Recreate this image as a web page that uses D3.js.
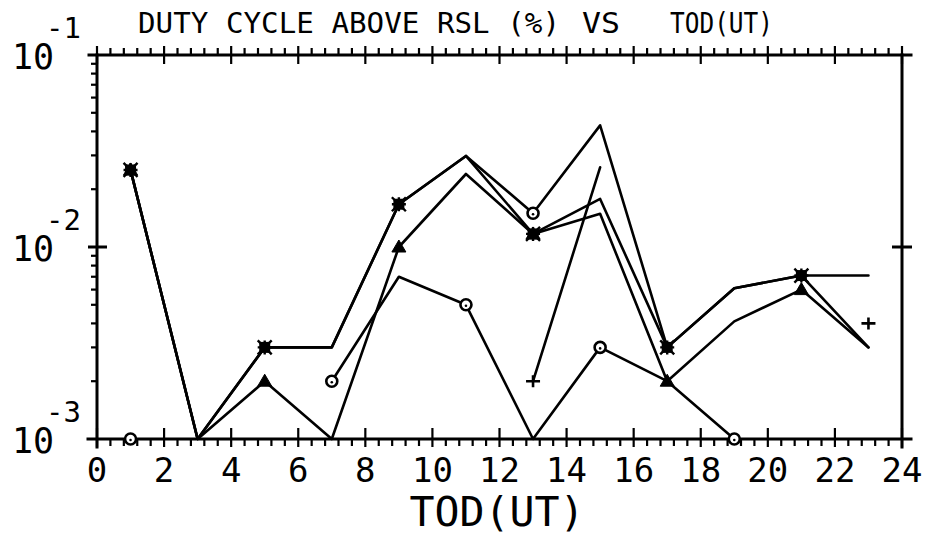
<!DOCTYPE html>
<html>
<head>
<meta charset="utf-8">
<script src="https://cdn.jsdelivr.net/npm/d3@7"></script>
<style>
  html, body { margin: 0; background: #fff; }
  svg { display: block; }
  text { font-family: "DejaVu Sans Mono", monospace; fill: #000; }
</style>
</head>
<body>
<svg id="chart" width="931" height="536"></svg>
<script>
// Time of day (UT) at which each duty-cycle sample was taken
const hours = [1, 3, 5, 7, 9, 11, 13, 15, 17, 19, 21, 23];

// Duty cycle above RSL, one array per receiver/threshold curve (null = no data)
const starValues     = [0.0252, 0.001, 0.0030, 0.0030, 0.0167, 0.0298, 0.0117, 0.0178, 0.0030, 0.0061, 0.0071, 0.0071];
const triangleValues = [0.0252, 0.001, 0.0020, 0.0010, 0.0100, 0.0240, 0.0117, 0.0149, 0.0020, 0.0041, 0.0060, 0.0030];
const circleValues   = [0.0010, null,  null,   0.0020, 0.0070, 0.0050, 0.0010, 0.0030, 0.0020, 0.0010, null,   null];
const peakValues     = [0.0252, 0.001, 0.0030, 0.0030, 0.0167, 0.0298, 0.0150, 0.0430, 0.0030, 0.0061, 0.0071, 0.0030];
const plusValues     = [null,   null,  null,   null,   null,   null,   0.0020, 0.0260, null,   null,   null,   0.0040];

// Hours at which each curve carries its plotting symbol
const starMarks     = [1, 5, 9, 13, 17, 21];
const triangleMarks = [1, 5, 9, 13, 17, 21];
const circleMarks   = [1, 7, 11, 15, 19];
const peakMarks     = [13];
const plusMarks     = [13, 23];

// Axis ticks and labels
const xTickValues = [0, 2, 4, 6, 8, 10, 12, 14, 16, 18, 20, 22, 24];
const yDecades = [1e-3, 1e-2, 1e-1];
const yExponents = ["-3", "-2", "-1"];
const titleParts = ["DUTY CYCLE ABOVE RSL (%)", "VS", "TOD(UT)"];
const xTitle = "TOD(UT)";

const svg = d3.select("#chart");
const x = d3.scaleLinear().domain([0, 24]).range([97, 902]);
const y = d3.scaleLog().domain([1e-3, 1e-1]).range([439, 55]);

const ink = "#000";
const lineW = 2.6;

// ---- frame ----
const frame = svg.append("g").attr("stroke", ink).attr("stroke-linecap", "square");
frame.append("line").attr("x1", x(0) - 8).attr("x2", x(24) + 9).attr("y1", y(1e-1)).attr("y2", y(1e-1)).attr("stroke-width", 3);
frame.append("line").attr("x1", x(0) - 9).attr("x2", x(24) + 9).attr("y1", y(1e-3)).attr("y2", y(1e-3)).attr("stroke-width", 3);
frame.append("line").attr("x1", x(0)).attr("x2", x(0)).attr("y1", y(1e-1)).attr("y2", y(1e-3) + 8).attr("stroke-width", 3);
frame.append("line").attr("x1", x(24)).attr("x2", x(24)).attr("y1", y(1e-1)).attr("y2", y(1e-3) + 8).attr("stroke-width", 3);

// x ticks: majors cross the axis, minors every 0.4 h point outward
const xMinor = d3.range(0, 24.001, 0.4).filter(v => Math.abs(v / 2 - Math.round(v / 2)) > 1e-6);
const ticks = svg.append("g").attr("stroke", ink).attr("stroke-width", 2.2);
xTickValues.forEach(v => {
  ticks.append("line").attr("x1", x(v)).attr("x2", x(v)).attr("y1", y(1e-1) - 9).attr("y2", y(1e-1) + 9);
  ticks.append("line").attr("x1", x(v)).attr("x2", x(v)).attr("y1", y(1e-3) - 11).attr("y2", y(1e-3) + 8);
});
xMinor.forEach(v => {
  ticks.append("line").attr("x1", x(v)).attr("x2", x(v)).attr("y1", y(1e-1) - 7).attr("y2", y(1e-1));
  ticks.append("line").attr("x1", x(v)).attr("x2", x(v)).attr("y1", y(1e-3)).attr("y2", y(1e-3) + 7);
});

// y ticks: decade ticks cross both verticals, minor ticks on the left only
y.ticks().filter(v => !yDecades.some(d => Math.abs(d - v) / d < 1e-6)).forEach(v => {
  ticks.append("line").attr("x1", x(0) - 6).attr("x2", x(0)).attr("y1", y(v)).attr("y2", y(v));
});
ticks.append("line").attr("x1", x(0) - 9).attr("x2", x(0) + 10).attr("y1", y(1e-2)).attr("y2", y(1e-2)).attr("stroke-width", 3);
ticks.append("line").attr("x1", x(24) - 10).attr("x2", x(24) + 10).attr("y1", y(1e-2)).attr("y2", y(1e-2)).attr("stroke-width", 3);

// ---- tick labels ----
svg.append("g").selectAll("text").data(xTickValues).join("text")
  .attr("x", d => x(d)).attr("y", 482)
  .attr("text-anchor", "middle").attr("font-size", 34)
  .text(d => d);

const yl = svg.append("g");
yDecades.forEach((d, i) => {
  yl.append("text").attr("x", 33).attr("y", y(d) + 14).attr("text-anchor", "middle").attr("font-size", 35).text("10");
  yl.append("text").attr("x", 46).attr("y", y(d) - 17).attr("font-size", 29).text(yExponents[i]);
});

// ---- titles ----
svg.append("text").attr("x", 138).attr("y", 33).attr("font-size", 29)
  .attr("textLength", 422).attr("lengthAdjust", "spacingAndGlyphs").text(titleParts[0]);
svg.append("text").attr("x", 582).attr("y", 33).attr("font-size", 29)
  .attr("textLength", 38).attr("lengthAdjust", "spacingAndGlyphs").text(titleParts[1]);
svg.append("text").attr("x", 670).attr("y", 33).attr("font-size", 29)
  .attr("textLength", 103).attr("lengthAdjust", "spacingAndGlyphs").text(titleParts[2]);
svg.append("text").attr("x", 497).attr("y", 526).attr("text-anchor", "middle").attr("font-size", 40)
  .attr("textLength", 175).attr("lengthAdjust", "spacingAndGlyphs").text(xTitle);

// ---- curves ----
const line = d3.line()
  .defined(d => d[1] != null)
  .x(d => x(d[0])).y(d => y(d[1]));

const curves = [circleValues, triangleValues, plusValues, peakValues, starValues];
const plot = svg.append("g").attr("fill", "none").attr("stroke", ink)
  .attr("stroke-width", lineW).attr("stroke-linejoin", "round").attr("stroke-linecap", "round");
curves.forEach(vals => {
  plot.append("path").attr("d", line(hours.map((h, i) => [h, vals[i]])));
});

// ---- symbols ----
const marks = svg.append("g");
const valueAt = (vals, h) => vals[hours.indexOf(h)];

function circleMark(h, vals) {
  const cx = x(h), cy = y(valueAt(vals, h));
  marks.append("circle").attr("cx", cx).attr("cy", cy).attr("r", 5.5)
    .attr("fill", "#fff").attr("stroke", ink).attr("stroke-width", 2.6);
  marks.append("circle").attr("cx", cx).attr("cy", cy + 1).attr("r", 1.3).attr("fill", ink);
}
function triangleMark(h, vals) {
  const cx = x(h), cy = y(valueAt(vals, h));
  marks.append("path").attr("d", `M${cx},${cy - 7}L${cx + 7},${cy + 5}L${cx - 7},${cy + 5}Z`)
    .attr("fill", ink).attr("stroke", ink).attr("stroke-width", 1);
}
function plusMark(h, vals) {
  const cx = x(h), cy = y(valueAt(vals, h));
  marks.append("path").attr("d", `M${cx - 7},${cy}H${cx + 7}M${cx},${cy - 6}V${cy + 6}`)
    .attr("stroke", ink).attr("stroke-width", 2.6);
}
function starMark(h, vals) {
  const cx = x(h), cy = y(valueAt(vals, h));
  marks.append("rect").attr("x", cx - 5.5).attr("y", cy - 5.5).attr("width", 11).attr("height", 11).attr("fill", ink);
  marks.append("path")
    .attr("d", `M${cx - 7},${cy - 7}L${cx + 7},${cy + 7}M${cx + 7},${cy - 7}L${cx - 7},${cy + 7}M${cx - 7},${cy}H${cx + 7}M${cx},${cy - 7}V${cy + 7}`)
    .attr("stroke", ink).attr("stroke-width", 2.4);
}

circleMarks.forEach(h => circleMark(h, circleValues));
peakMarks.forEach(h => circleMark(h, peakValues));
plusMarks.forEach(h => plusMark(h, plusValues));
triangleMarks.forEach(h => triangleMark(h, triangleValues));
starMarks.forEach(h => starMark(h, starValues));
</script>
</body>
</html>
